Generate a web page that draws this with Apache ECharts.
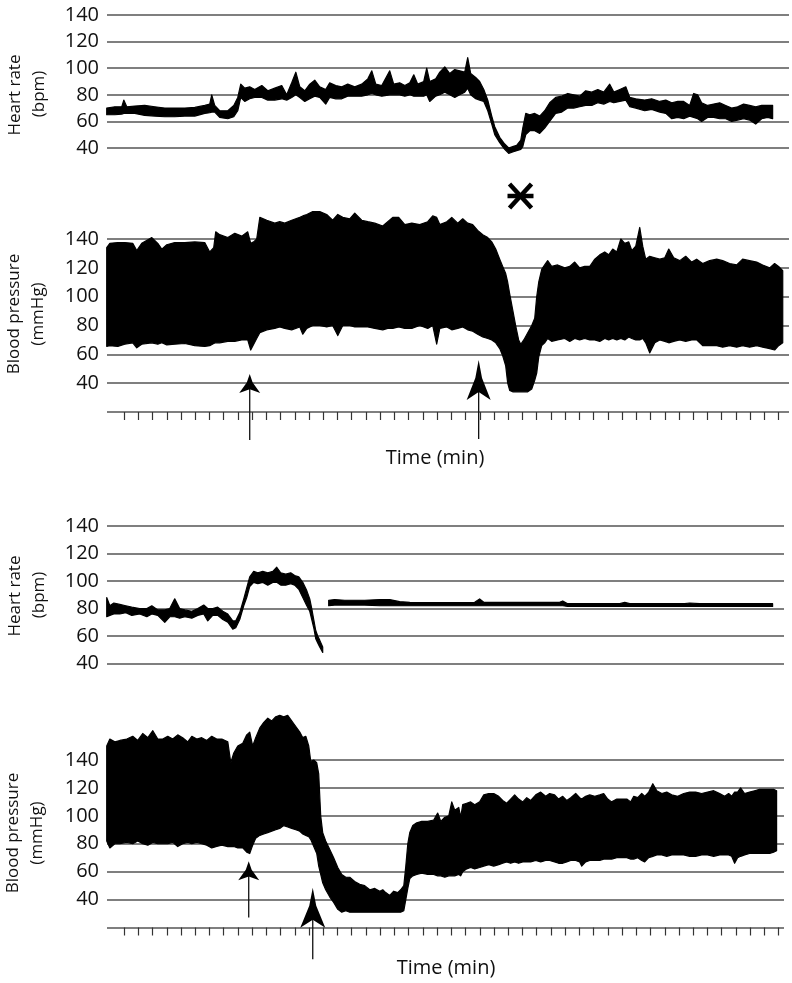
<!DOCTYPE html>
<html>
<head>
<meta charset="utf-8">
<script src="https://cdn.jsdelivr.net/npm/echarts@6/dist/echarts.min.js"></script>
<style>
html,body{margin:0;padding:0;background:#fff;}
#chart{width:792px;height:983px;}
</style>
</head>
<body>
<div id="chart"></div>
<script>
// ---- DATA (time in minutes = tick units; values = [time, lower, upper]) ----
var tickMinutes = [];
for (var k = 0; k <= 46; k++) tickMinutes.push(k);

var yTicksHR = [40, 60, 80, 100, 120, 140];
var yTicksBP = [20, 40, 60, 80, 100, 120, 140];

// Top experiment – heart rate band (bpm)
var hrTop = [
[-1.22,65,70],[-0.65,65,71],[-0.16,65.5,71],[-0.02,66,76],[0.19,66,71],[0.75,66,71.5],[1.45,64.5,72],[2.16,64,71],[2.86,63.5,70],[3.56,63.5,70],
[4.27,64,70],[4.97,64,70.5],[5.67,66,72],[6.02,66.5,73],[6.16,67,80],[6.37,67,72],[6.72,63,68],[7.29,62,68],[7.71,63.5,72],[7.99,68,78],
[8.20,78,88],[8.48,75,85],[8.83,77,86],[9.18,78,84],[9.68,78,87],[10.10,76,83],[10.59,76,85],[11.08,77,87],[11.43,76,80],[11.78,78,89],
[12.07,80,97],[12.35,78,86],[12.70,75,83],[13.05,77,88],[13.40,79,91],[13.75,78,86],[14.17,73,84],[14.45,78,89],[14.88,77,87],[15.30,77,86],
[15.72,79,88],[16.21,79,86],[16.70,79,88],[17.13,80,92],[17.41,81,98],[17.69,80,88],[18.11,79,87],[18.67,80,98],[18.95,80,88],[19.37,80,89],
[19.73,79,87],[20.08,80,89],[20.36,79,95],[20.64,79,88],[21.06,79,90],[21.27,80,100],[21.48,75,90],[21.90,79,92],[22.19,80,97],[22.54,82,101],
[22.89,80,96],[23.24,78,99],[23.59,80,98],[23.94,82,97],[24.15,85,108],[24.36,80,96],[24.71,77,93],[24.99,76,90],[25.28,75,84],[25.56,68,76],
[25.84,58,64],[26.05,50,56],[26.40,44,48],[26.75,39,43],[27.03,36,40],[27.31,37,41],[27.59,38,42],[27.88,39,46],[28.02,41,55],[28.23,50,66],
[28.51,53,65],[28.86,53,66],[29.21,51,64],[29.56,55,68],[29.91,60,74],[30.33,66,78],[30.76,67,79],[31.18,70,81],[31.60,70,80],[32.02,71,79],
[32.44,72,83],[32.87,72,82],[33.29,74,84],[33.71,73,82],[34.13,75,88],[34.42,74,82],[34.84,75,84],[35.26,76,86],[35.54,71,78],[35.96,70,77],
[36.59,68,76],[37.08,69,77],[37.65,67,75],[38.07,66,76],[38.49,62,74],[38.91,63,75],[39.33,62,75],[39.75,64,72],[40.03,63,81],[40.31,62,80],
[40.59,60,74],[41.01,63,72],[41.44,63,73],[41.86,62,74],[42.28,62,72],[42.70,60,70],[43.12,61,71],[43.54,62,73],[43.96,61,72],[44.39,58,71],
[44.81,62,72],[45.23,63,72],[45.58,62,72]
];

// Top experiment – blood pressure band (mmHg)
var bpTop = [
[-1.22,65.5,134],[-1.00,66,137],[-0.44,65.5,137.5],[0.05,67,137.5],[0.61,68,137],[0.89,64.5,132],[1.24,67,137],[1.95,68,141],[2.37,67,137],[2.65,68,133],
[3.00,66.5,136],[3.56,67,137.5],[4.27,67.5,137.5],[4.97,66,138],[5.67,65.5,137.5],[6.02,66,131],[6.30,67.5,134],[6.44,68,145],[6.72,68,143],[7.29,69,141],
[7.78,69,144],[8.27,70,142],[8.69,70,145],[8.90,63,137],[9.11,67,138],[9.32,71,140],[9.54,75,155],[10.03,77,153],[10.59,78,151],[10.94,79,152],
[11.29,78,151],[11.78,77,153],[12.35,79,155],[12.56,74,156],[12.84,78,157],[13.26,80,159],[13.75,80,159],[14.24,79,157],[14.66,80,153],[15.02,73,157],
[15.37,80,155],[15.86,80,154],[16.21,79,158],[16.70,79,153],[17.13,79,152],[17.62,78,151],[18.18,77,149],[18.53,78,152],[18.88,78,155],[19.30,79,155],
[19.73,78,150],[20.22,78,151],[20.78,80,150],[21.34,78,152],[21.69,80,156],[21.97,67,155],[22.19,78,150],[22.68,79,152],[23.03,77,155],[23.45,78,151],
[23.80,79,154],[24.15,77,151],[24.50,76,150],[24.85,74,146],[25.21,72,143],[25.56,71,141],[25.84,70,138],[26.12,68,133],[26.40,64,126],[26.61,59,121],
[26.82,52,116],[26.96,40,110],[27.10,35,102],[27.31,34,91],[27.52,34,80],[27.73,34,70],[27.88,34,67],[28.09,34,70],[28.37,34,75],[28.65,36,80],
[28.86,42,85],[29.00,47,100],[29.14,58,110],[29.35,66,119],[29.56,68,122],[29.77,71,125],[30.05,69,121],[30.47,70,122],[30.97,71,120],[31.32,69,121],
[31.67,71,124],[32.02,70,120],[32.37,71,121],[32.73,70,121],[33.08,70,126],[33.43,69,129],[33.78,71,131],[34.06,70,129],[34.34,71,133],[34.63,70,131],
[34.91,71,140],[35.19,70,137],[35.47,72,138],[35.68,71,132],[35.96,70,135],[36.24,70,148],[36.45,71,135],[36.66,68,126],[36.94,61,128],[37.30,68,127],
[37.65,70,126],[38.00,69,127],[38.28,68,133],[38.63,69,127],[39.05,70,125],[39.47,69,128],[39.89,70,124],[40.24,70,126],[40.66,66,123],[41.15,66,125],
[41.65,66,126],[42.07,65,125],[42.56,66,123],[43.05,65,122],[43.47,66,126],[43.96,65,125],[44.46,66,124],[44.88,65,122],[45.37,64,120],[45.72,63,123],
[46.00,66,121],[46.29,68,118]
];

// Bottom experiment – heart rate band (bpm)
var hrBottom = [
[-1.22,74,88],[-1.00,75,82],[-0.72,76,84],[-0.30,76,83],[0.12,77,82],[0.54,75,81],[1.10,76,80],[1.60,74,80],[1.95,76,82],[2.37,75,79],
[2.86,70,79],[3.21,74,80],[3.56,74,87],[3.91,73,80],[4.27,74,79],[4.76,73,78],[5.18,75,80],[5.60,76,82.5],[5.88,71,80],[6.23,75,80],
[6.58,75,81],[6.94,72,78],[7.29,70,76],[7.64,65,71],[7.85,66,71],[8.13,72,77],[8.41,82,87],[8.62,88,95],[8.83,96,103],[9.11,99,107],
[9.40,98,106],[9.75,99,107],[10.10,97,106],[10.45,99,107],[10.73,99,110],[11.01,97,106],[11.36,97,105],[11.71,98,106],[11.99,97,104],[12.28,94,103],
[12.56,88,99],[12.84,82,93],[13.05,78,87],[13.19,72,80],[13.33,66,72],[13.47,58,64],[13.61,55,60],[13.75,52,57],[13.96,48,52],[14.10,null,null],
[14.38,82,86],[14.80,82.5,86.5],[15.51,82.5,86],[16.21,82.5,86],[16.91,82.5,86],[17.97,82,86.5],[18.67,82,86.5],[19.37,82,85],[20.08,82,84.5],[22.89,82,84.3],
[24.64,82,84.5],[24.99,82,87],[25.28,82,84.5],[27.81,82,84.5],[30.61,82,84.5],[30.83,82,85.5],[31.18,81.5,83.5],[34.84,81.5,83.5],[35.19,81.5,84.5],[35.54,81.5,83.5],
[39.40,81.5,83.5],[39.75,81.5,84],[40.45,81.5,83.5],[45.58,81.5,83.5]
];

// Bottom experiment – blood pressure band (mmHg)
var bpBottom = [
[-1.22,82,150],[-1.00,77,155],[-0.65,80,153],[-0.30,80,154],[0.19,81,155],[0.61,80,157],[0.96,82,154],[1.31,80,159],[1.67,79,156],[2.02,81,161],
[2.37,80,155],[2.72,80,155],[3.07,80,157],[3.42,81,155],[3.77,78,158],[4.12,80,156],[4.48,81,153],[4.76,80,157],[5.11,81,155],[5.46,80,156],
[5.81,79,154],[6.16,77,157],[6.51,78,155],[6.87,79,155],[7.29,78,153],[7.50,78,138],[7.71,78,145],[7.99,77,150],[8.34,77,152],[8.62,74,158],
[8.83,73,160],[9.04,79,150],[9.25,84,156],[9.54,86,163],[9.82,87,167],[10.10,88,170],[10.38,89,168],[10.66,90,171],[10.94,91,172],[11.22,93,171],
[11.50,92,172],[11.78,91,168],[12.07,90,164],[12.35,89,160],[12.56,87,156],[12.77,86,157],[12.98,85,150],[13.12,83,139],[13.33,78,140],[13.54,73,138],
[13.68,64,130],[13.82,58,100],[13.96,52,88],[14.17,47,82],[14.45,42,76],[14.73,38,70],[15.02,33,63],[15.30,31,58],[15.58,32,56],[15.86,31,56],
[16.21,31,53],[16.56,31,51],[16.91,31,50],[17.27,31,47],[17.62,31,48],[17.97,31,46],[18.18,31,47],[18.39,31,45],[18.67,31,43],[18.95,31,46],
[19.23,31,45],[19.44,31,47],[19.66,32,50],[19.80,40,64],[19.94,48,80],[20.08,55,88],[20.29,57,93],[20.57,58,95],[20.92,59,96],[21.34,58,96],
[21.76,58,97],[22.04,57,102],[22.26,57,96],[22.54,56,99],[22.82,57,100],[23.03,57,110],[23.24,57,104],[23.52,58,106],[23.66,57,99],[23.80,60,108],
[24.08,62,109],[24.36,63,110],[24.64,62,108],[24.99,63,110],[25.28,64,115],[25.63,65,116],[25.98,64,116],[26.33,65,114],[26.61,66,111],[26.89,67,109],
[27.17,66,112],[27.45,67,115],[27.73,66,112],[28.02,67,110],[28.30,67,113],[28.58,67,111],[28.93,68,115],[29.28,67,117],[29.63,68,114],[29.91,68,116],
[30.26,67,115],[30.54,66,112],[30.83,66,114],[31.11,67,111],[31.39,68,113],[31.74,68,116],[32.02,67,113],[32.16,64,112],[32.44,67,114],[32.73,68,115],
[33.08,68,114],[33.43,68,115],[33.71,69,116],[33.99,69,112],[34.27,69,110],[34.63,70,112],[34.98,70,112],[35.33,70,112],[35.61,69,110],[35.82,69,114],
[36.10,70,113],[36.38,68,116],[36.59,67,114],[36.87,70,117],[37.16,71,123],[37.44,72,118],[37.79,72,116],[38.14,71,117],[38.49,72,115],[38.91,72,114],
[39.33,72,116],[39.75,71,117],[40.17,71,117],[40.59,72,116],[41.01,72,117],[41.44,71,118],[41.86,72,116],[42.21,72,114],[42.49,72,116],[42.70,71,114],
[42.91,66,117],[43.12,70,117],[43.33,71,120],[43.61,72,116],[43.96,73,117],[44.31,73,118],[44.66,73,119],[45.02,73,119],[45.37,73,119],[45.65,74,119],
[45.86,75,118]
];

// Intervention arrows: [time, tip value, tail value]
var arrowsTop = [[8.83, 46.4, 0.6], [24.92, 56.1, 1.2]];
var arrowsBottom = [[8.76, 67.5, 27.1], [13.26, 48.4, -2.7]];

// ---- RENDER ----
var FONT = '"Open Sans", "DejaVu Sans", sans-serif';
var GRID_COLOR = '#555';
var arrowSizesTop = [[21, 19], [24, 40]];
var arrowSizesBottom = [[21, 19], [25, 40]];

function bandItem(params, api) {
  if (params.dataIndexInside !== 0) return null;
  var n = params.dataInsideLength, kids = [], up = [], dn = [];
  function flush() {
    if (up.length > 1) {
      kids.push({type: 'polygon', shape: {points: up.concat(dn.reverse())},
        style: {fill: '#000', stroke: '#000', lineWidth: 1.2, lineJoin: 'round'}});
    }
    up = []; dn = [];
  }
  for (var i = 0; i < n; i++) {
    var t = api.value(0, i), lo = api.value(1, i), hi = api.value(2, i);
    if (lo == null || hi == null || !isFinite(lo) || !isFinite(hi)) { flush(); continue; }
    up.push(api.coord([t, hi]));
    dn.push(api.coord([t, lo]));
  }
  flush();
  return {type: 'group', children: kids};
}

function arrowItem(sizes) {
  return function (params, api) {
    var s = sizes[params.dataIndex], w = s[0], h = s[1];
    var tip = api.coord([api.value(0), api.value(1)]);
    var tail = api.coord([api.value(0), api.value(2)]);
    var x = tip[0], y = tip[1];
    return {type: 'group', children: [
      {type: 'line', shape: {x1: x, y1: y + h * 0.7, x2: x, y2: tail[1]},
        style: {stroke: '#111', lineWidth: 1.3}},
      {type: 'polygon', shape: {points: [[x, y], [x + w * 0.14, y + h * 0.45], [x + w / 2, y + h],
        [x, y + h * 0.8], [x - w / 2, y + h], [x - w * 0.14, y + h * 0.45]]},
        style: {fill: '#000'}}
    ]};
  };
}

function yAxisCfg(idx, min, hideMin) {
  return {
    type: 'value', gridIndex: idx, min: min, max: 140, interval: 20,
    axisLine: {show: false}, axisTick: {show: false},
    axisLabel: {fontSize: 20, fontFamily: FONT, color: '#111', margin: 8,
      formatter: function (v) { return (hideMin && v === min) ? '' : String(v); }},
    splitLine: {show: true, lineStyle: {color: GRID_COLOR, width: 1.5}}
  };
}
function xAxisCfg(idx, max, ticks) {
  return {
    type: 'value', gridIndex: idx, min: -1.2, max: max,
    axisLine: {show: false}, axisLabel: {show: false}, splitLine: {show: false},
    axisTick: {show: ticks, inside: false, length: 8, customValues: tickMinutes,
      lineStyle: {color: '#333', width: 1.2}}
  };
}

function bandSeries(idx, data) {
  return {type: 'custom', xAxisIndex: idx, yAxisIndex: idx, clip: false, silent: true,
    dimensions: ['t', 'lo', 'hi'], encode: {x: 't', y: ['lo', 'hi']},
    renderItem: bandItem, data: data, z: 3};
}
function arrowSeries(idx, data, sizes) {
  return {type: 'custom', xAxisIndex: idx, yAxisIndex: idx, clip: false, silent: true,
    dimensions: ['t', 'tip', 'tail'], encode: {x: 't', y: ['tip', 'tail']},
    renderItem: arrowItem(sizes), data: data, z: 4};
}

function vText(x, y, txt) {
  return {type: 'text', x: x, y: y, rotation: Math.PI / 2,
    style: {text: txt, fontSize: 17, fontFamily: FONT, fill: '#111', align: 'center', verticalAlign: 'middle'}};
}

var chart = echarts.init(document.getElementById('chart'), null, {renderer: 'canvas'});
chart.setOption({
  animation: false,
  backgroundColor: '#fff',
  grid: [
    {left: 107, right: 3, top: 15, height: 133},
    {left: 107, right: 3, top: 239, height: 173},
    {left: 107, right: 8, top: 526, height: 137.5},
    {left: 107, right: 8, top: 760, height: 167.5}
  ],
  xAxis: [xAxisCfg(0, 46.73, false), xAxisCfg(1, 46.73, true), xAxisCfg(2, 46.38, false), xAxisCfg(3, 46.38, true)],
  yAxis: [yAxisCfg(0, 40, false), yAxisCfg(1, 20, true), yAxisCfg(2, 40, false), yAxisCfg(3, 20, true)],
  series: [
    bandSeries(0, hrTop),
    bandSeries(1, bpTop),
    bandSeries(2, hrBottom),
    bandSeries(3, bpBottom),
    arrowSeries(1, arrowsTop, arrowSizesTop),
    arrowSeries(3, arrowsBottom, arrowSizesBottom)
  ],
  graphic: [
    vText(15, 95, 'Heart rate'), vText(39, 94, '(bpm)'),
    vText(14, 314, 'Blood pressure'), vText(38, 314, '(mmHg)'),
    vText(15, 596, 'Heart rate'), vText(39, 595, '(bpm)'),
    vText(13, 833, 'Blood pressure'), vText(37, 833, '(mmHg)'),
    {type: 'text', x: 435, y: 458, style: {text: 'Time (min)', fontSize: 20, fontFamily: FONT, fill: '#111', align: 'center', verticalAlign: 'middle'}},
    {type: 'text', x: 446, y: 968, style: {text: 'Time (min)', fontSize: 20, fontFamily: FONT, fill: '#111', align: 'center', verticalAlign: 'middle'}},
    {type: 'group', x: 520.5, y: 196, children: [
      {type: 'line', shape: {x1: -13, y1: 0, x2: 13, y2: 0}, style: {stroke: '#000', lineWidth: 4.5}},
      {type: 'line', shape: {x1: -11, y1: -12, x2: 11, y2: 12}, style: {stroke: '#000', lineWidth: 4.5}},
      {type: 'line', shape: {x1: -11, y1: 12, x2: 11, y2: -12}, style: {stroke: '#000', lineWidth: 4.5}}
    ]}
  ]
});
</script>
</body>
</html>
